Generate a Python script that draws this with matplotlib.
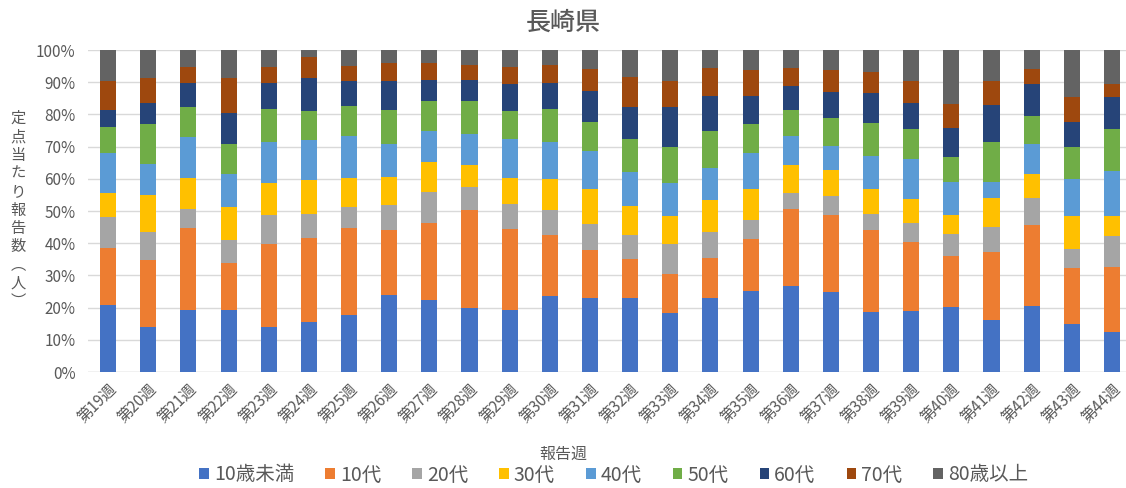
import matplotlib
matplotlib.use("Agg")
import matplotlib.pyplot as plt
import numpy as np

plt.rcParams["font.family"] = ["Noto Sans CJK JP", "DejaVu Sans"]

WEEKS = [f"第{w}週" for w in range(19, 45)]
AGE_GROUPS = ["10歳未満", "10代", "20代", "30代", "40代", "50代", "60代", "70代", "80歳以上"]
COLORS = ["#4472C4", "#ED7D31", "#A5A5A5", "#FFC000", "#5B9BD5",
          "#70AD47", "#264478", "#9E480E", "#636363"]

# share per age group (%), weeks 19..44
under10 = [20.7, 14.1, 19.3, 19.3, 14.1, 15.4, 17.8, 24.0, 22.3, 19.9, 19.2, 23.6, 23.0,
           23.0, 18.2, 23.0, 25.2, 26.8, 24.7, 18.5, 18.8, 20.3, 16.0, 20.5, 14.9, 12.5]
teens = [17.8, 20.8, 25.3, 14.6, 25.5, 26.3, 26.8, 20.1, 24.0, 30.4, 25.3, 18.9, 14.8,
         12.2, 12.1, 12.5, 16.0, 23.8, 24.0, 25.6, 21.7, 15.6, 21.2, 25.1, 17.5, 20.0]
twenties = [9.5, 8.6, 6.1, 7.2, 9.1, 7.5, 6.8, 7.8, 9.5, 7.1, 7.6, 7.9, 8.3,
            7.5, 9.6, 8.0, 6.0, 4.9, 6.0, 4.9, 5.8, 7.1, 7.8, 8.3, 5.8, 9.6]
thirties = [7.6, 11.5, 9.5, 10.0, 10.0, 10.3, 8.9, 8.7, 9.5, 6.9, 8.3, 9.4, 10.7,
            9.0, 8.7, 10.0, 9.6, 8.8, 8.1, 7.7, 7.4, 5.8, 9.1, 7.5, 10.2, 6.5]
forties = [12.5, 9.7, 12.8, 10.4, 12.6, 12.7, 13.0, 10.2, 9.4, 9.7, 12.0, 11.5, 11.7,
           10.5, 10.0, 10.0, 11.1, 9.1, 7.5, 10.5, 12.6, 10.2, 4.9, 9.3, 11.4, 13.7]
fifties = [7.9, 12.4, 9.2, 9.2, 10.5, 8.9, 9.3, 10.6, 9.5, 10.2, 8.7, 10.3, 9.3,
           10.1, 11.2, 11.2, 9.0, 8.0, 8.7, 10.2, 9.3, 7.8, 12.3, 8.7, 10.1, 13.3]
sixties = [5.5, 6.6, 7.7, 9.7, 8.0, 10.3, 7.7, 8.9, 6.6, 6.6, 8.4, 8.3, 9.5,
           10.0, 12.4, 11.1, 8.9, 7.3, 8.1, 9.2, 7.9, 8.9, 11.6, 10.1, 7.8, 9.7]
seventies = [8.8, 7.6, 4.9, 11.0, 5.0, 6.5, 4.7, 5.8, 5.3, 4.7, 5.1, 5.6, 6.8,
             9.2, 8.3, 8.5, 8.1, 5.7, 6.6, 6.7, 6.8, 7.5, 7.4, 4.6, 7.6, 4.2]
over80 = [9.7, 8.7, 5.2, 8.6, 5.2, 2.1, 5.0, 3.9, 3.9, 4.5, 5.4, 4.5, 5.9,
          8.5, 9.5, 5.7, 6.1, 5.6, 6.3, 6.7, 9.7, 16.8, 9.7, 5.9, 14.7, 10.5]

SERIES = [under10, teens, twenties, thirties, forties, fifties, sixties, seventies, over80]


def main() -> None:
    data = np.array(SERIES, dtype=float)
    data = data / data.sum(axis=0) * 100  # normalise to 100 %

    fig = plt.figure(figsize=(11.26, 4.88), dpi=100)
    ax = fig.add_axes([88 / 1126, 0.2377, 1038 / 1126, 0.6598])

    x = np.arange(len(WEEKS))
    bottom = np.zeros(len(WEEKS))
    for vals, label, color in zip(data, AGE_GROUPS, COLORS):
        ax.bar(x, vals, bottom=bottom, width=0.4, color=color, label=label, zorder=3)
        bottom += vals

    ax.set_xlim(-0.5, 25.35)
    ax.set_ylim(0, 100)
    ax.set_yticks(np.arange(0, 101, 10))
    ax.set_yticklabels([f"{v}%" for v in range(0, 101, 10)], fontsize=11, color="#595959")
    ax.set_xticks(x)
    ax.set_xticklabels(WEEKS, rotation=45, ha="right", rotation_mode="anchor",
                       fontsize=11, color="#595959")
    ax.tick_params(axis="both", length=0)
    ax.tick_params(axis="y", pad=9)
    ax.tick_params(axis="x", pad=6)
    ax.grid(axis="y", color="#d9d9d9", lw=1, zorder=0)
    for s in ax.spines.values():
        s.set_visible(False)
    ax.axhline(0, color="#d9d9d9", lw=1, zorder=1)

    fig.text(0.5, 0.953, "長崎県", ha="center", va="center", fontsize=18,
             color="#595959", fontweight="medium")
    ylabel = "\n".join(list("定点当たり報告数") + ["︵", "人", "︶"])
    fig.text(18 / 1126, 1 - 210 / 488, ylabel, ha="center", va="center",
             fontsize=11, color="#595959", linespacing=1.1)
    fig.text(0.5, 1 - 454 / 488, "報告週", ha="center", va="center",
             fontsize=11.5, color="#595959")

    leg = fig.legend(loc="center", bbox_to_anchor=(0.545, 1 - 475 / 488), ncol=9,
                     frameon=False, fontsize=14, handlelength=0.5, handleheight=0.5,
                     handletextpad=0.25, columnspacing=1.6)
    for t in leg.get_texts():
        t.set_color("#595959")

    fig.savefig("out.png", dpi=100)
    plt.close(fig)


if __name__ == "__main__":
    main()
